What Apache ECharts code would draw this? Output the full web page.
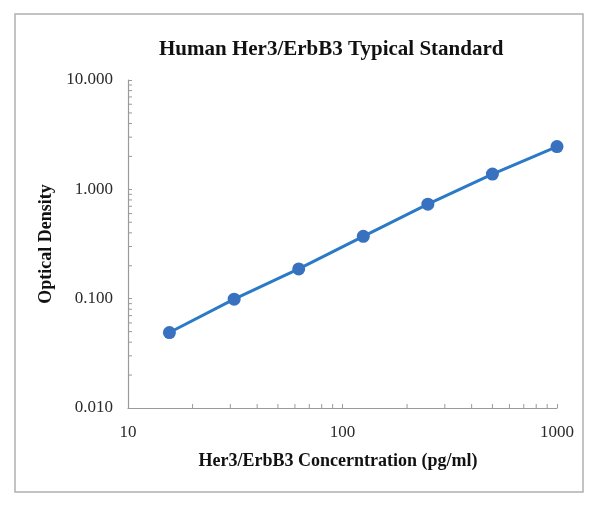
<!DOCTYPE html>
<html>
<head>
<meta charset="utf-8">
<script src="https://cdn.jsdelivr.net/npm/echarts@6/dist/echarts.min.js"></script>
<style>html,body{margin:0;padding:0;background:#fff}#c{width:600px;height:508px}</style>
</head>
<body>
<div id="c"></div>
<script>
var concentrations = [15.6, 31.25, 62.5, 125, 250, 500, 1000];
var opticalDensity = [0.049, 0.099, 0.187, 0.372, 0.731, 1.38, 2.46];
var xMinorTicks = [20,30,40,50,60,70,80,90,200,300,400,500,600,700,800,900];
var yMinorTicks = [0.02,0.03,0.04,0.05,0.06,0.07,0.08,0.09,0.2,0.3,0.4,0.5,0.6,0.7,0.8,0.9,2,3,4,5,6,7,8,9];
var titleText = 'Human Her3/ErbB3 Typical Standard';
var xName = 'Her3/ErbB3 Concerntration (pg/ml)';
var yName = 'Optical Density';

var FONT = '"Liberation Serif", "Times New Roman", serif';
var axisColor = '#9a9a9a';

var chart = echarts.init(document.getElementById('c'));
chart.setOption({
  animation: false,
  backgroundColor: '#fff',
  title: {
    text: titleText,
    left: 154, top: 34,
    textStyle: {fontFamily: FONT, fontWeight: 'bold', fontSize: 21, color: '#111'}
  },
  graphic: [{
    type: 'rect', shape: {x: 15, y: 14, width: 568, height: 478},
    style: {fill: 'none', stroke: '#b0b0b0', lineWidth: 1.5}, silent: true
  }],
  grid: {left: 128, right: 43, top: 80, bottom: 100, containLabel: false},
  xAxis: {
    type: 'log', logBase: 10, min: 10, max: 1000,
    name: xName, nameLocation: 'middle', nameGap: 44,
    nameTextStyle: {fontFamily: FONT, fontWeight: 'bold', fontSize: 18, color: '#111', padding: [0, 9, 0, 0]},
    axisLine: {show: true, lineStyle: {color: axisColor, width: 1.2}},
    axisTick: {show: true, inside: true, length: 4, lineStyle: {color: axisColor}},
    axisLabel: {fontFamily: FONT, fontSize: 17, color: '#2a2a2a', margin: 16,
      formatter: function (v) { return String(Math.round(v)); }},
    splitLine: {show: false}
  },
  yAxis: {
    type: 'log', logBase: 10, min: 0.01, max: 10,
    name: yName, nameLocation: 'middle', nameGap: 65,
    nameTextStyle: {fontFamily: FONT, fontWeight: 'bold', fontSize: 18, color: '#111'},
    axisLine: {show: true, lineStyle: {color: axisColor, width: 1.2}},
    axisTick: {show: true, inside: true, length: 4, lineStyle: {color: axisColor}},
    axisLabel: {fontFamily: FONT, fontSize: 17, color: '#2a2a2a', margin: 15,
      formatter: function (v) { return Number(v).toFixed(3); }},
    splitLine: {show: false}
  },
  series: [
    {
      type: 'custom', silent: true, clip: false, z: 1,
      data: xMinorTicks.map(function (v) { return [v, 0.01]; }),
      renderItem: function (params, api) {
        var p = api.coord([api.value(0), api.value(1)]);
        return {type: 'line', shape: {x1: p[0], y1: p[1], x2: p[0], y2: p[1] - 4},
          style: {stroke: axisColor, lineWidth: 1}};
      }
    },
    {
      type: 'custom', silent: true, clip: false, z: 1,
      data: yMinorTicks.map(function (v) { return [10, v]; }),
      renderItem: function (params, api) {
        var p = api.coord([api.value(0), api.value(1)]);
        return {type: 'line', shape: {x1: p[0], y1: p[1], x2: p[0] + 4, y2: p[1]},
          style: {stroke: axisColor, lineWidth: 1}};
      }
    },
    {
      type: 'line', z: 3,
      data: concentrations.map(function (c, i) { return [c, opticalDensity[i]]; }),
      symbol: 'circle', symbolSize: 13, showAllSymbol: true,
      lineStyle: {color: '#2a7ac7', width: 3},
      itemStyle: {color: '#3871bf'}
    }
  ]
});
</script>
</body>
</html>
